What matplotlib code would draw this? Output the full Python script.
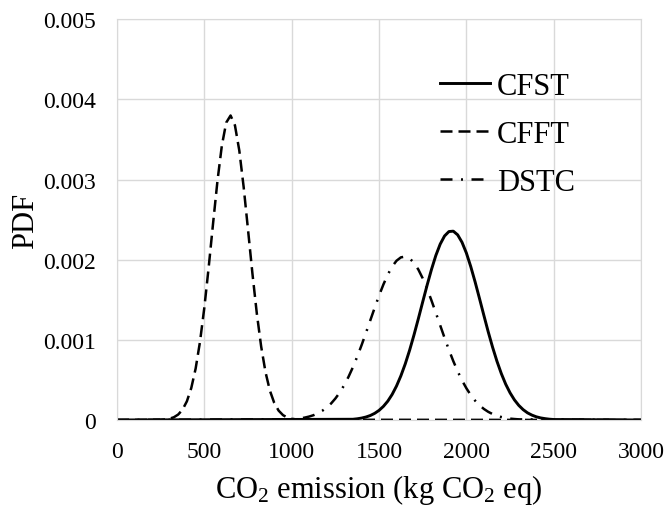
import matplotlib
matplotlib.use("Agg")
import matplotlib.pyplot as plt

plt.rcParams['font.family'] = ['Liberation Serif', 'DejaVu Serif']
plt.rcParams['mathtext.fontset'] = 'custom'
plt.rcParams['mathtext.rm'] = 'Liberation Serif'
plt.rcParams['mathtext.default'] = 'regular'

# values
cfft_x = [0, 250, 275, 300, 325, 350, 375, 400, 425, 450, 475, 500, 525, 550, 575,
          600, 625, 650, 675, 700, 725, 750, 775, 800, 825, 850, 875, 900, 925,
          950, 975, 1000, 1025, 1050, 3000]
cfft_y = [0, 0.000003, 0.000007, 0.000016, 0.000034, 0.000068, 0.000129, 0.000234,
          0.000399, 0.000642, 0.000977, 0.001406, 0.001913, 0.002458, 0.002984,
          0.003423, 0.003710, 0.003799, 0.003676, 0.003361, 0.002904, 0.002371,
          0.001829, 0.001333, 0.000918, 0.000597, 0.000367, 0.000213, 0.000117,
          0.000061, 0.000030, 0.000014, 0.000006, 0.000003, 0]

cfst_x = [0, 1350, 1375, 1400, 1425, 1450, 1475, 1500, 1525, 1550, 1575, 1600, 1625,
          1650, 1675, 1700, 1725, 1750, 1775, 1800, 1825, 1850, 1875, 1900, 1925,
          1950, 1975, 2000, 2025, 2050, 2075, 2100, 2125, 2150, 2175, 2200, 2225,
          2250, 2275, 2300, 2325, 2350, 2375, 2400, 2425, 2450, 2475, 2500, 3000]
cfst_y = [0, 0.000009, 0.000015, 0.000024, 0.000037, 0.000056, 0.000083, 0.000120,
          0.000170, 0.000235, 0.000319, 0.000424, 0.000551, 0.000700, 0.000871,
          0.001061, 0.001264, 0.001474, 0.001681, 0.001877, 0.002052, 0.002194,
          0.002296, 0.002351, 0.002356, 0.002310, 0.002217, 0.002083, 0.001914,
          0.001722, 0.001516, 0.001306, 0.001100, 0.000908, 0.000733, 0.000579,
          0.000447, 0.000339, 0.000251, 0.000182, 0.000129, 0.000089, 0.000061,
          0.000040, 0.000026, 0.000017, 0.000010, 0.000006, 0]

dstc_x = [0, 1000, 1025, 1050, 1075, 1100, 1125, 1150, 1175, 1200, 1225, 1250, 1275,
          1300, 1325, 1350, 1375, 1400, 1425, 1450, 1475, 1500, 1525, 1550, 1575,
          1600, 1625, 1650, 1675, 1700, 1725, 1750, 1775, 1800, 1825, 1850, 1875,
          1900, 1925, 1950, 1975, 2000, 2025, 2050, 2075, 2100, 2125, 2150, 2175,
          2200, 2225, 2250, 2275, 2300, 3000]
dstc_y = [0, 0.000009, 0.000014, 0.000020, 0.000030, 0.000043, 0.000060, 0.000084,
          0.000115, 0.000155, 0.000205, 0.000268, 0.000343, 0.000433, 0.000538,
          0.000657, 0.000790, 0.000934, 0.001087, 0.001244, 0.001400, 0.001552,
          0.001691, 0.001814, 0.001914, 0.001987, 0.002029, 0.002039, 0.002016,
          0.001961, 0.001877, 0.001767, 0.001637, 0.001492, 0.001338, 0.001181,
          0.001025, 0.000875, 0.000735, 0.000608, 0.000494, 0.000396, 0.000311,
          0.000241, 0.000184, 0.000138, 0.000102, 0.000074, 0.000053, 0.000037,
          0.000026, 0.000017, 0.000012, 0.000008, 0]

x_ticks = [0, 500, 1000, 1500, 2000, 2500, 3000]
y_ticks = [0, 0.001, 0.002, 0.003, 0.004, 0.005]
y_labels = ['0', '0.001', '0.002', '0.003', '0.004', '0.005']

fig = plt.figure(figsize=(6.65, 5.06), dpi=100)
ax = fig.add_axes([0.176, 0.168, 0.788, 0.792])

ax.plot(cfst_x, cfst_y, color='black', lw=2.1, label='CFST')
ax.plot(cfft_x, cfft_y, color='black', lw=1.8, dashes=(4.8, 2.4), label='CFFT')
ax.plot(dstc_x, dstc_y, color='black', lw=1.8, dashes=(4.8, 3.4, 0.8, 3.4), label='DSTC')

ax.set_xlim(0, 3000)
ax.set_ylim(0, 0.005)
ax.set_xticks(x_ticks)
ax.set_yticks(y_ticks)
ax.set_yticklabels(y_labels)
ax.tick_params(length=0, labelsize=17)
ax.tick_params(axis='x', pad=15)
ax.tick_params(axis='y', pad=15)
ax.grid(True, color='#d9d9d9', lw=1)
ax.set_axisbelow(True)
for s in ax.spines.values():
    s.set_color('#d9d9d9')

ax.set_xlabel('CO$_2$ emission (kg CO$_2$ eq)', fontsize=22, labelpad=7)
ax.set_ylabel('PDF', fontsize=22, labelpad=2)

ax.legend(loc='upper left', bbox_to_anchor=(0.616, 0.868), frameon=False,
          fontsize=22, handlelength=1.64, handletextpad=0.23, labelspacing=0.62,
          borderpad=0, borderaxespad=0)

fig.savefig('out.png', dpi=100)
